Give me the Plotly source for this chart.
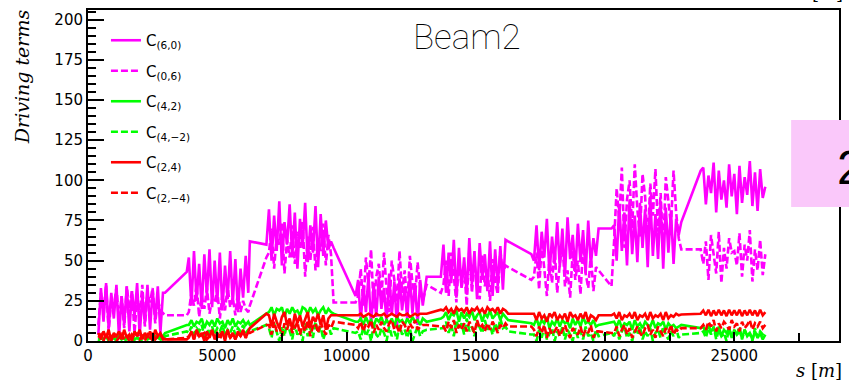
import plotly.graph_objects as go

# Longitudinal position of each sample [m]; dense inside the arcs,
# only end points across the long straight sections.
S_POS = [
    400, 500, 600, 700, 800, 900, 1000, 1100, 1200, 1300, 1400, 1500, 1600,
    1700, 1800, 1900, 2000, 2100, 2200, 2300, 2400, 2500, 2600, 2700, 2800, 2900,
    2980, 3820,
    3900, 4000, 4100, 4200, 4300, 4400, 4500, 4600, 4700, 4800, 4900, 5000,
    5100, 5200, 5300, 5400, 5500, 5600, 5700, 5800, 5900, 6000, 6100, 6200,
    6260, 6900,
    7000, 7100, 7200, 7300, 7400, 7500, 7600, 7700, 7800, 7900, 8000, 8100,
    8200, 8300, 8400, 8500, 8600, 8700, 8800, 8900, 9000, 9100, 9200, 9300, 9400,
    9500, 10350,
    10450, 10550, 10650, 10750, 10850, 10950, 11050, 11150, 11250, 11350, 11450,
    11550, 11650, 11750, 11850, 11950, 12050, 12150, 12250, 12350, 12450, 12550,
    12650, 12750, 12850, 12950,
    13100, 13650,
    13750, 13850, 13950, 14050, 14150, 14250, 14350, 14450, 14550, 14650, 14750,
    14850, 14950, 15050, 15150, 15250, 15350, 15450, 15550, 15650, 15750, 15850,
    15950, 16050, 16150,
    16250, 17150,
    17250, 17350, 17450, 17550, 17650, 17750, 17850, 17950, 18050, 18150, 18250,
    18350, 18450, 18550, 18650, 18750, 18850, 18950, 19050, 19150, 19250, 19350,
    19450, 19550, 19650,
    19750, 20250,
    20350, 20450, 20550, 20650, 20750, 20850, 20950, 21050, 21150, 21250, 21350,
    21450, 21550, 21650, 21750, 21850, 21950, 22050, 22150, 22250, 22350, 22450,
    22550, 22650, 22750, 22850,
    22950, 23700,
    23800, 23900, 24000, 24100, 24200, 24300, 24400, 24500, 24600, 24700, 24800,
    24900, 25000, 25100, 25200, 25300, 25400, 25500, 25600, 25700, 25800, 25900,
    26000, 26100, 26200,
]

C_6_0 = [
    4, 33, 12, 36, 8, 30, 14, 35, 2, 28, 10, 34, 6, 31, 15, 36, 3, 29, 11, 35, 7, 32, 13, 34, 5, 30,
    30, 43,
    52, 22, 56, 25, 48, 20, 54, 28, 57, 21, 50, 24, 55, 19, 47, 26, 56, 23, 51, 18, 45, 27, 53, 30,
    62, 60,
    82, 50, 78, 56, 87, 47, 74, 60, 85, 52, 80, 45, 76, 58, 86, 49, 72, 55, 84, 46, 79, 53, 75, 57, 62,
    58, 28,
    38, 12, 35, 18, 41, 9, 36, 15, 40, 20, 33, 11, 42, 16, 37, 8, 39, 19, 34, 13, 41, 17, 36, 10, 38, 22,
    40, 40,
    60, 30, 55, 36, 63, 27, 58, 33, 52, 29, 64, 35, 56, 26, 61, 38, 54, 31, 62, 28, 57, 34, 59, 32, 63,
    62, 54,
    50, 72, 44, 68, 52, 76, 41, 65, 48, 74, 46, 70, 40, 77, 51, 66, 43, 73, 49, 69, 42, 75, 47, 64, 53,
    70, 70,
    72, 50, 85, 56, 80, 47, 88, 54, 78, 49, 86, 58, 82, 46, 90, 53, 79, 51, 87, 45, 83, 55, 81, 48, 76, 66,
    74, 106,
    108, 85, 103, 92, 111, 80, 106, 88, 100, 83, 110, 90, 104, 79, 109, 86, 102, 91, 112, 84, 105, 81, 107, 89, 96,
]

C_0_6 = [
    10, 30, 18, 35, 6, 26, 22, 33, 12, 28, 8, 34, 20, 31, 5, 27, 16, 35, 9, 29, 24, 33, 11, 26, 19, 17,
    16, 16,
    18, 30, 22, 35, 15, 28, 20, 33, 17, 26, 24, 32, 14, 29, 19, 34, 21, 27, 16, 31, 18, 25, 20, 18,
    22, 52,
    55, 70, 45, 66, 60, 74, 42, 63, 52, 72, 48, 68, 58, 75, 40, 65, 50, 71, 44, 62, 56, 73, 47, 66, 54,
    24, 24,
    28, 45, 22, 52, 35, 57, 20, 40, 48, 26, 55, 32, 18, 50, 38, 24, 56, 30, 44, 21, 53, 36, 27, 49, 33, 25,
    35, 30,
    35, 50, 28, 55, 40, 24, 52, 33, 46, 22, 57, 30, 48, 38, 26, 54, 34, 45, 25, 51, 37, 29, 56, 42, 47,
    46, 38,
    40, 55, 32, 60, 45, 28, 52, 36, 58, 30, 48, 62, 34, 44, 27, 56, 38, 50, 29, 59, 42, 33, 54, 31, 46,
    44, 34,
    62, 95, 75, 108, 58, 88, 100, 70, 110, 82, 65, 104, 90, 60, 98, 78, 107, 68, 92, 56, 102, 85, 72, 106, 80, 64,
    57, 57,
    48, 62, 38, 66, 52, 42, 68, 36, 58, 45, 64, 55, 56, 47, 67, 40, 60, 50, 69, 37, 57, 44, 63, 41, 54,
]

C_4_2 = [
    1, 2, 1, 3, 1, 2, 2, 1, 3, 1, 2, 1, 2, 3, 1, 2, 1, 3, 2, 1, 2, 1, 3, 2, 1, 3,
    5, 10,
    10, 13, 9, 12, 11, 14, 8, 12, 10, 13, 9, 14, 11, 12, 8, 13, 10, 14, 9, 12, 11, 13, 10, 12,
    10, 17,
    18, 21, 16, 20, 19, 21, 15, 20, 17, 21, 18, 19, 16, 21, 20, 17, 21, 18, 20, 16, 19, 21, 17, 20, 18,
    17, 12,
    12, 14, 10, 15, 11, 13, 9, 14, 12, 15, 10, 13, 11, 14, 9, 15, 12, 13, 10, 14, 11, 15, 12, 13, 10, 14,
    12, 14,
    15, 18, 13, 17, 16, 19, 12, 18, 14, 17, 15, 19, 13, 16, 18, 12, 17, 15, 19, 14, 16, 18, 13, 17, 15,
    13, 11,
    10, 14, 9, 13, 11, 15, 8, 12, 10, 14, 9, 13, 11, 12, 8, 14, 10, 13, 9, 15, 11, 12, 10, 13, 9,
    10, 12,
    12, 9, 13, 8, 11, 10, 12, 7, 13, 9, 11, 8, 12, 10, 9, 13, 8, 11, 10, 12, 7, 11, 9, 10, 8, 9,
    10, 8,
    9, 5, 10, 6, 8, 4, 9, 3, 7, 5, 8, 2, 7, 4, 6, 2, 7, 3, 5, 1, 6, 2, 5, 1, 4,
]

C_4_M2 = [
    0, 2, 1, 3, 0, 1, 2, 0, 3, 1, 0, 2, 1, 3, 0, 2, 1, 0, 2, 3, 1, 0, 2, 1, 3, 0,
    3, 6,
    5, 9, 4, 8, 6, 10, 3, 7, 5, 9, 4, 8, 6, 10, 3, 7, 5, 9, 4, 8, 6, 10, 5, 7,
    6, 10,
    8, 2, 11, 5, 0, 9, 3, 12, 6, 1, 10, 4, 7, 0, 11, 3, 8, 2, 12, 5, 9, 1, 6, 10, 4,
    8, 5,
    6, 1, 9, 3, 7, 0, 10, 4, 2, 8, 5, 0, 9, 3, 6, 1, 10, 4, 7, 2, 8, 0, 5, 9, 3, 6,
    7, 8,
    8, 12, 5, 10, 3, 13, 7, 11, 4, 14, 6, 9, 3, 12, 8, 5, 13, 7, 10, 4, 11, 6, 14, 8, 9,
    6, 4,
    4, 0, 7, 2, 9, 1, 5, 8, 0, 6, 3, 9, 1, 7, 4, 0, 8, 2, 6, 1, 9, 3, 5, 0, 7,
    3, 5,
    3, 8, 1, 6, 9, 2, 5, 0, 7, 4, 9, 1, 6, 3, 8, 0, 5, 7, 2, 9, 4, 1, 6, 3, 8, 2,
    4, 5,
    6, 2, 8, 4, 9, 1, 7, 3, 5, 0, 8, 2, 6, 4, 9, 1, 7, 3, 5, 0, 8, 2, 6, 4, 3,
]

C_2_4 = [
    5, 1, 6, 2, 7, 0, 5, 3, 6, 1, 7, 2, 4, 0, 6, 3, 7, 1, 5, 2, 6, 0, 7, 3, 5, 2,
    1, 1,
    2, 6, 1, 7, 3, 5, 0, 6, 2, 7, 1, 5, 3, 6, 0, 7, 2, 5, 1, 6, 3, 7, 2, 6,
    8, 17,
    16, 9, 17, 12, 8, 15, 18, 10, 14, 7, 17, 11, 16, 9, 13, 18, 8, 15, 12, 17, 10, 16, 7, 14, 16,
    16, 16,
    16, 17, 15, 16, 17, 16, 15, 17, 16, 16, 17, 15, 16, 17, 16, 15, 17, 16, 16, 17, 15, 16, 17, 16, 17, 17,
    17, 19.5,
    19, 21, 18, 20, 17, 21, 19, 20, 18, 21, 17, 20, 19, 21, 18, 20, 17, 21, 19, 20, 18, 21, 17, 20, 19,
    17, 17,
    17, 13, 18, 14, 16, 12, 17, 15, 18, 13, 16, 14, 17, 12, 18, 15, 16, 13, 17, 14, 18, 12, 16, 15, 13,
    16, 16,
    17, 14, 18, 13, 16, 15, 17, 14, 18, 13, 16, 15, 17, 13, 18, 14, 16, 15, 17, 13, 18, 14, 16, 15, 17, 16,
    16.5, 17,
    19, 16, 19.5, 15.5, 19, 16, 19.5, 16, 19, 15.5, 19.5, 16, 19, 16, 19.5, 15.5, 19, 16, 19.5, 16, 19, 15.5, 19.5, 16, 18,
]

C_2_M4 = [
    2, 4, 0, 5, 1, 3, 4, 0, 2, 5, 1, 3, 0, 4, 2, 5, 1, 3, 0, 4, 2, 5, 1, 3, 4, 1,
    1, 2,
    3, 5, 1, 6, 2, 4, 5, 1, 3, 6, 2, 4, 1, 5, 3, 6, 2, 4, 1, 5, 3, 6, 2, 5,
    5, 10,
    10, 4, 12, 6, 9, 3, 11, 7, 13, 5, 8, 12, 4, 10, 6, 13, 3, 9, 11, 5, 12, 7, 4, 10, 8,
    12, 10,
    8, 12, 6, 11, 9, 13, 5, 10, 7, 12, 8, 6, 11, 13, 7, 9, 5, 12, 10, 6, 11, 8, 13, 7, 9, 10,
    10, 9,
    9, 6, 12, 8, 13, 5, 10, 7, 11, 6, 12, 9, 5, 13, 8, 10, 6, 11, 7, 12, 9, 5, 10, 8, 11,
    9, 9,
    7, 3, 9, 5, 10, 2, 8, 4, 6, 9, 3, 7, 10, 5, 2, 8, 6, 4, 9, 3, 7, 5, 10, 2, 6,
    6, 5,
    5, 9, 3, 7, 10, 4, 8, 2, 6, 9, 5, 3, 8, 10, 4, 7, 2, 9, 6, 3, 8, 5, 10, 4, 7, 6,
    8, 8,
    10, 7, 12, 9, 13, 6, 11, 8, 12, 10, 7, 13, 9, 11, 6, 12, 8, 10, 13, 7, 11, 9, 12, 8, 10,
]

SERIES = [
    ("C<sub>(6,0)</sub>", C_6_0, "#ff00ff", "solid"),
    ("C<sub>(0,6)</sub>", C_0_6, "#ff00ff", "7px,3px"),
    ("C<sub>(4,2)</sub>", C_4_2, "#00ff00", "solid"),
    ("C<sub>(4,−2)</sub>", C_4_M2, "#00ff00", "7px,3px"),
    ("C<sub>(2,4)</sub>", C_2_4, "#ff0000", "solid"),
    ("C<sub>(2,−4)</sub>", C_2_M4, "#ff0000", "7px,3px"),
]

for _, vals, _, _ in SERIES:
    assert len(vals) == len(S_POS), len(vals)

fig = go.Figure()
for i, (name, vals, color, dash) in enumerate(SERIES):
    fig.add_trace(go.Scatter(
        x=S_POS, y=vals, mode="lines", name=name,
        legendgroup=f"g{i}",
        line=dict(color=color, width=2.6, dash=dash),
    ))

# plot area in pixels: x 88..841, y 10..341
W, H = 849, 380
L, R, T, B = 88, 8, 10, 39
pw, ph = W - L - R, H - T - B


def px_x(px):
    return (px - L) / pw


def px_y(py):
    return (H - B - py) / ph


tick_font = dict(family="DejaVu Sans", size=15, color="black")

fig.update_layout(
    width=W, height=H,
    margin=dict(l=L, r=R, t=T, b=B),
    paper_bgcolor="white", plot_bgcolor="white",
    showlegend=True,
    legend=dict(
        x=px_x(106), y=px_y(24), xanchor="left", yanchor="top",
        bgcolor="rgba(0,0,0,0)", borderwidth=0,
        font=dict(family="DejaVu Sans", size=15, color="black"),
        tracegroupgap=8, traceorder="grouped",
    ),
    xaxis=dict(
        range=[0, 29050], showgrid=False, zeroline=False,
        showline=True, linecolor="black", linewidth=2, mirror=True,
        ticks="inside", ticklen=9, tickwidth=1.5, tickcolor="black",
        dtick=5000, tick0=0, tickformat="d", tickfont=tick_font,
        minor=dict(dtick=2500, ticks="inside", ticklen=8, tickwidth=1.5, tickcolor="black"),
    ),
    yaxis=dict(
        range=[0, 206], showgrid=False, zeroline=False,
        showline=True, linecolor="black", linewidth=2, mirror=True,
        ticks="inside", ticklen=16, tickwidth=1.5, tickcolor="black",
        dtick=25, tick0=0, tickformat="d", tickfont=tick_font,
        minor=dict(dtick=5, ticks="inside", ticklen=8, tickwidth=1.5, tickcolor="black"),
    ),
)

fig.add_annotation(
    text="Beam2", xref="paper", yref="paper", x=px_x(468), y=px_y(38),
    xanchor="center", yanchor="middle", showarrow=False,
    font=dict(family="Roboto", size=35, weight=100, color="black"),
)
fig.add_annotation(
    text="<i>Driving terms</i>", xref="paper", yref="paper", x=px_x(22), y=px_y(77),
    xanchor="center", yanchor="middle", textangle=-90, showarrow=False,
    font=dict(family="DejaVu Serif", size=19, color="black"),
)
fig.add_annotation(
    text="<i>s</i> [<i>m</i>]", xref="paper", yref="paper", x=px_x(846), y=px_y(371),
    xanchor="right", yanchor="middle", showarrow=False,
    font=dict(family="DejaVu Serif", size=18, color="black"),
)
fig.add_annotation(
    text="[m]", xref="paper", yref="paper", x=px_x(829), y=px_y(5),
    xanchor="center", yanchor="bottom", showarrow=False,
    font=dict(family="DejaVu Serif", size=18, color="black"),
)

# pink tab on the right edge with a large "2"
fig.add_shape(
    type="rect", xref="paper", yref="paper",
    x0=px_x(793), x1=px_x(852), y0=px_y(207), y1=px_y(120),
    fillcolor="#fac8fa", line=dict(width=0), layer="above",
)
fig.add_annotation(
    text="2", xref="paper", yref="paper", x=px_x(837), y=px_y(167),
    xanchor="left", yanchor="middle", showarrow=False,
    font=dict(family="Liberation Sans", size=48, color="black"),
)

fig.write_html("out.html")
